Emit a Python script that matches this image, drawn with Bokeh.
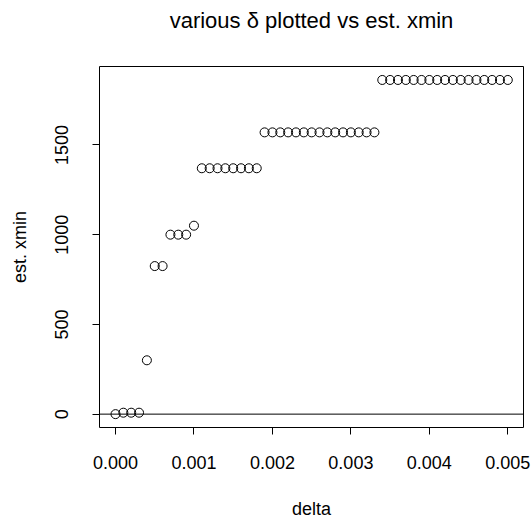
from bokeh.plotting import figure
from bokeh.models import Range1d, Span, FixedTicker, ColumnDataSource, LinearAxis
from bokeh.embed import file_html
from bokeh.resources import INLINE

delta = [round(i * 0.0001, 4) for i in range(51)]
est_xmin = ([0, 8, 8, 8, 300, 825, 825, 1000, 1000, 1000, 1050]
            + [1370] * 8 + [1570] * 15 + [1862] * 17)
x_ticks = [0.0, 0.001, 0.002, 0.003, 0.004, 0.005]
x_tick_labels = {0.0: "0.000", 0.001: "0.001", 0.002: "0.002",
                 0.003: "0.003", 0.004: "0.004", 0.005: "0.005"}
y_ticks = [0, 500, 1000, 1500]
title_text = "various \u03b4 plotted vs est. xmin"

FONT = "Liberation Sans"

p = figure(width=531, height=522, output_backend="svg", toolbar_location=None,
           x_range=Range1d(-0.000204, 0.0052), y_range=Range1d(-74.5, 1937),
           min_border_left=99, min_border_right=8, min_border_top=66,
           min_border_bottom=95, background_fill_color="white",
           border_fill_color="white")

xax = p.below[0]
yax = p.left[0]

# main title: a tick-less axis above the frame carrying the title text
title_axis = LinearAxis(ticker=FixedTicker(ticks=[]), axis_label=title_text,
                        axis_line_color=None, major_tick_line_color=None,
                        minor_tick_line_color=None, major_tick_out=0,
                        major_tick_in=0, major_label_standoff=0,
                        major_label_text_font_size="0px",
                        axis_label_standoff=34,
                        axis_label_text_font=FONT,
                        axis_label_text_font_size="22px",
                        axis_label_text_font_style="normal",
                        axis_label_text_color="black")
p.add_layout(title_axis, "above")

p.outline_line_color = "black"
p.outline_line_width = 1
p.grid.visible = False

for ax in (xax, yax):
    ax.axis_line_color = None
    ax.major_tick_line_color = "black"
    ax.major_tick_out = 7
    ax.major_tick_in = 0
    ax.minor_tick_line_color = None
    ax.major_label_text_font = FONT
    ax.major_label_text_font_size = "18px"
    ax.major_label_text_color = "black"
    ax.axis_label_text_font = FONT
    ax.axis_label_text_font_size = "18px"
    ax.axis_label_text_font_style = "normal"
    ax.axis_label_text_color = "black"

xax.ticker = FixedTicker(ticks=x_ticks)
xax.major_label_overrides = x_tick_labels
xax.axis_label = "delta"
xax.major_label_standoff = 21
xax.axis_label_standoff = 27

yax.ticker = FixedTicker(ticks=y_ticks)
yax.major_label_orientation = "vertical"
yax.axis_label = "est. xmin"
yax.major_label_standoff = 24
yax.axis_label_standoff = 23

p.add_layout(Span(location=0, dimension="width", line_color="black", line_width=1))

src = ColumnDataSource(data=dict(x=delta, y=est_xmin))
p.scatter("x", "y", source=src, marker="circle", size=9, fill_color=None,
          line_color="black", line_width=1)

open("out.html", "w").write(file_html(p, INLINE))
